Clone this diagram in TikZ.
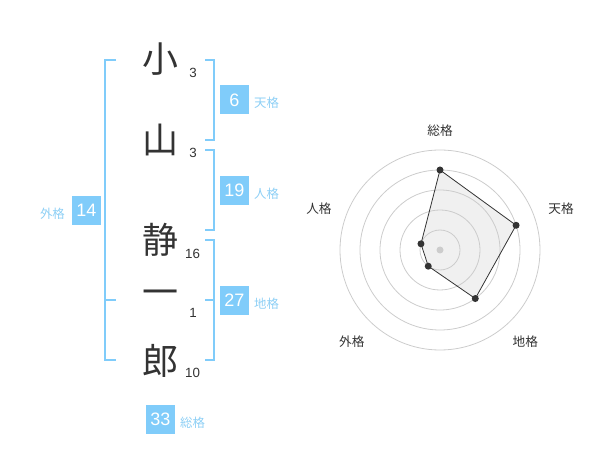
\documentclass[tikz,border=0pt]{standalone}
\usepackage{fontspec}
\setmainfont{Liberation Sans}
\newfontfamily\jfont{Noto Sans CJK JP}
\usetikzlibrary{positioning, calc}
\definecolor{kakublue}{HTML}{80CCFA}
\definecolor{kakutext}{HTML}{8DCFF5}
\definecolor{moji}{HTML}{333333}
\definecolor{ring}{HTML}{CCCCCC}
\definecolor{polyfill}{HTML}{F0F0F0}

\begin{document}
\begin{tikzpicture}[x=0.75pt, y=-0.75pt, node distance=3pt,
	kanji/.style={font=\jfont\fontsize{27}{27}\selectfont, text=moji, inner sep=0pt},
	kakusu/.style={font=\fontsize{10}{10}\selectfont, text=moji, inner sep=0pt},
	kaku/.style={fill=kakublue, text=white, minimum size=21.75pt, inner sep=0pt, font=\fontsize{13.5}{13.5}\selectfont},
	kakuname/.style={font=\jfont\fontsize{9.3}{9.3}\selectfont, text=kakutext, inner sep=0pt},
	bracket/.style={draw=kakublue, line width=1.5pt},
	axisname/.style={font=\jfont\fontsize{9.5}{9.5}\selectfont, text=moji, inner sep=0pt}
	]
	\useasboundingbox (0,0) rectangle (600,470);

	%Nome: caractere e numero de tracos
	\node[kanji]	(c1) at (160,59)	{小};
	\node[kanji]	(c2) at (160,140)	{山};
	\node[kanji]	(c3) at (160,240)	{静};
	\node[kanji]	(c4) at (160,298)	{一};
	\node[kanji]	(c5) at (160,361)	{郎};
	\node[kakusu]	(n1) at (193,73)	{3};
	\node[kakusu]	(n2) at (193,153)	{3};
	\node[kakusu]	(n3) at (192.5,253.5)	{16};
	\node[kakusu]	(n4) at (193,313)	{1};
	\node[kakusu]	(n5) at (192.5,373)	{10};

	%Colchetes
	\draw[bracket] (116,60) -- (105,60) -- (105,360) -- (116,360);
	\draw[bracket] (105,300) -- (116,300);
	\draw[bracket] (205,60) -- (214,60) -- (214,140) -- (205,140);
	\draw[bracket] (205,150) -- (214,150) -- (214,230) -- (205,230);
	\draw[bracket] (205,240) -- (214,240) -- (214,360) -- (205,360);
	\draw[bracket] (205,300) -- (214,300);

	%Caixas
	\node[kaku]	(ten) at (234.5,100)	{6};
	\node[kaku]	(jin) at (234.5,190.5)	{19};
	\node[kaku]	(chi) at (234.5,300.5)	{27};
	\node[kaku]	(gai) at (86.5,210.5)	{14};
	\node[kaku]	(sou) at (160.5,419.5)	{33};
	\node[kakuname]	(tenL) [right=3.5pt of ten, yshift=-2.2pt]	{天格};
	\node[kakuname]	(jinL) [right=3.5pt of jin, yshift=-2.2pt]	{人格};
	\node[kakuname]	(chiL) [right=3.5pt of chi, yshift=-2.2pt]	{地格};
	\node[kakuname]	(gaiL) [left=5pt of gai, yshift=-2.2pt]	{外格};
	\node[kakuname]	(souL) [right=3.5pt of sou, yshift=-2.2pt]	{総格};

	%Grafico radar
	\begin{scope}[shift={(440,250)}, yscale=-1]
		\foreach \a/\v/\n in {90/80/rsou, 18/80/rten, -54/60/rchi, -126/20/rgai, 162/20/rjin}
			\coordinate (\n) at (\a:\v);
		\fill[polyfill] (rsou) -- (rten) -- (rchi) -- (rgai) -- (rjin) -- cycle;
		\foreach \r in {20,40,...,100}
			\draw[ring, line width=0.6pt] (0,0) circle (\r);
		\fill[ring] (0,0) circle (3.5);
		\draw[moji, line width=0.6pt] (rsou) -- (rten) -- (rchi) -- (rgai) -- (rjin) -- cycle;
		\foreach \n in {rsou, rten, rchi, rgai, rjin}
			\fill[moji] (\n) circle (3.5);
		\node[axisname]	(lsou) at (90:119)	{総格};
		\node[axisname]	(lten) at (19:128)	{天格};
		\node[axisname]	(lchi) at (-47:125)	{地格};
		\node[axisname]	(lgai) at (-134:127)	{外格};
		\node[axisname]	(ljin) at (161:128)	{人格};
	\end{scope}
\end{tikzpicture}
\end{document}
